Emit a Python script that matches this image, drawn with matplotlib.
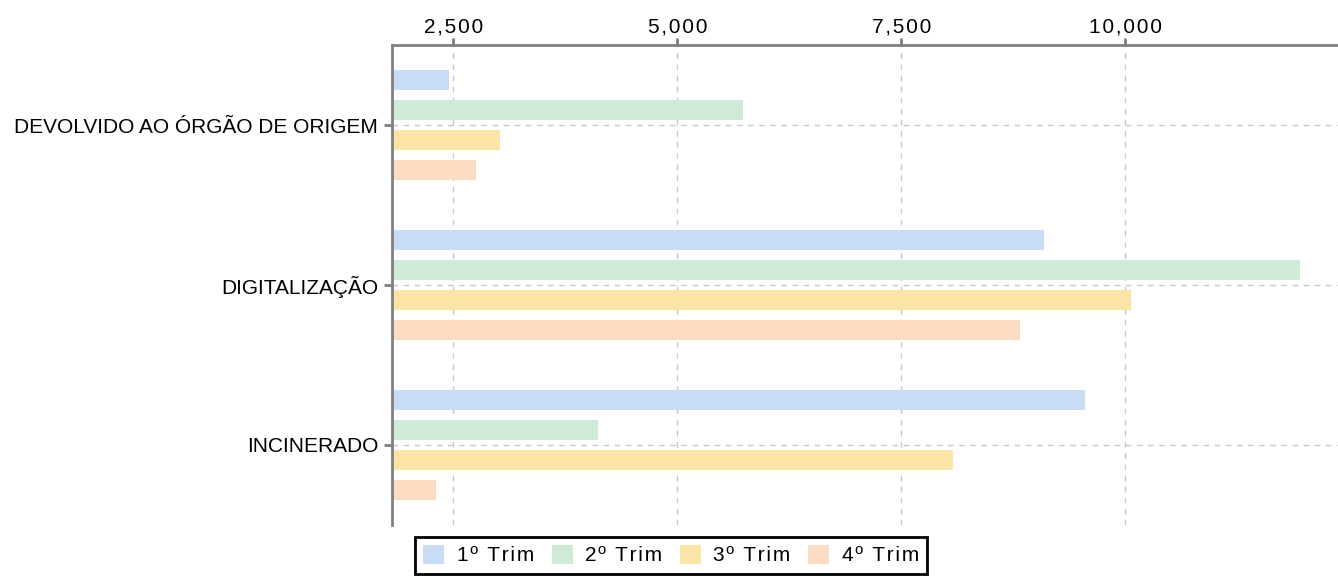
import numpy as np
import matplotlib.pyplot as plt

plt.rcParams['font.family'] = ['Liberation Sans', 'DejaVu Sans']

# dados
categorias = ['DEVOLVIDO AO ÓRGÃO DE ORIGEM', 'DIGITALIZAÇÃO', 'INCINERADO']
trim1 = [2450, 9090, 9550]
trim2 = [5730, 11950, 4115]
trim3 = [3020, 10060, 8080]
trim4 = [2750, 8830, 2310]
series = ['1º Trim', '2º Trim', '3º Trim', '4º Trim']
cores = ['#c9dcf6', '#cfead6', '#fbe5a6', '#fcdcc2']
ticks = [2500, 5000, 7500, 10000]

fig = plt.figure(figsize=(13.38, 5.78), dpi=100)
ax = fig.add_axes([0.293, 0.092, 0.707, 0.830])

y = np.arange(len(categorias))
passo = 0.1875
for i, (vals, nome, cor) in enumerate(zip([trim1, trim2, trim3, trim4], series, cores)):
    ax.barh(y + (i - 1.5) * passo, vals, height=0.125, color=cor, label=nome, zorder=2)

ax.set_xlim(1816, 12374)
ax.set_ylim(2.5, -0.5)
ax.set_yticks(y)
ax.set_yticklabels(categorias, fontsize=15)
ax.set_xticks(ticks)
# espaçamento entre letras, como no original
ax.set_xticklabels(['\u200a'.join(f'{t:,}') for t in ticks], fontsize=15)
ax.xaxis.tick_top()

ax.grid(True, color='#c8c8c8', linestyle=(0, (4, 4)), linewidth=1, zorder=0)
for lado in ['right', 'bottom']:
    ax.spines[lado].set_visible(False)
for lado in ['top', 'left']:
    ax.spines[lado].set_color('#808080')
    ax.spines[lado].set_linewidth(2)
ax.tick_params(axis='both', colors='#808080', width=2, length=6, labelcolor='black')
ax.tick_params(axis='x', length=5, pad=1)
ax.tick_params(axis='y', pad=4)

rotulos = ['\u200a'.join(s) for s in series]
handles, _ = ax.get_legend_handles_labels()
leg = ax.legend(handles, rotulos, loc='upper center', bbox_to_anchor=(0.295, -0.003), ncol=4,
                fontsize=15, frameon=True, fancybox=False, edgecolor='black', framealpha=1,
                handlelength=1.0, handleheight=1.0, columnspacing=0.85, handletextpad=0.6,
                borderpad=0.4)
leg.get_frame().set_linewidth(2)

fig.savefig('out.png', dpi=100)
